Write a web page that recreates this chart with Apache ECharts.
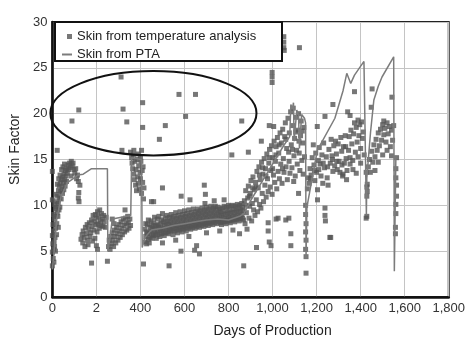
<!DOCTYPE html>
<html>
<head>
<meta charset="utf-8">
<script src="https://cdn.jsdelivr.net/npm/echarts@6/dist/echarts.min.js"></script>
<style>
html, body { margin: 0; padding: 0; background: #fff; }
#chart { width: 468px; height: 343px; }
</style>
</head>
<body>
<div id="chart"></div>
<script>
// ===== 数据 =====
// x 轴刻度文字（原图 200 处只显示 "2"）
var xTickLabels = ['0', '2', '400', '600', '800', '1,000', '1,200', '1,400', '1,600', '1,800'];

// Skin from temperature analysis: [天数, 表皮系数]
var tempSkin = [
  // 0-125 天上升段
  [0,3.4],[0,4.9],[0,6.7],[0,10.6],[0,13.7],[2,5.8],[4,4.2],[5,7.2],[6,5.2],[7,3.8],[8,6.0],[9,8.5],
  [10,5.5],[12,6.5],[14,7.5],[15,9.6],[16,8.8],[18,9.8],[20,10.4],[20,8.0],[22,9.2],[24,11.0],[25,8.8],
  [26,10.2],[28,11.6],[30,9.5],[31,12.1],[33,10.8],[36,12.4],[38,11.5],[41,12.8],[44,12.0],[47,13.1],
  [50,12.5],[53,13.4],[56,12.8],[59,13.8],[62,13.2],[65,14.0],[68,13.5],[71,14.4],[74,13.9],[78,14.6],
  [82,14.1],[86,14.8],[90,14.3],[94,14.6],[98,13.9],[102,13.5],[106,14.0],[110,12.9],[114,13.3],
  [118,12.6],[120,11.4],[118,10.8],[121,10.4],[125,12.2],[22,16.0],
  [3,7.9],[6,9.0],[11,10.1],[17,11.2],[23,12.3],[29,12.9],[35,13.3],[42,13.9],[48,14.2],[55,14.5],
  [14,5.0],[19,6.8],[27,7.6],[34,9.8],[40,10.7],[46,11.3],[52,11.7],[58,12.1],[64,12.6],[85,13.2],
  // 椭圆内及高位散点
  [89,19.2],[120,20.4],[312,24.0],[321,20.5],[338,19.1],[410,21.2],[410,18.5],[513,18.7],[486,17.2],
  [575,22.1],[650,22.1],[605,19.7],[316,16.0],[815,15.5],[860,19.2],[890,15.8],
  // 130-250 天
  [130,6.3],[135,6.8],[138,5.9],[140,7.2],[145,6.5],[148,5.5],[150,7.6],[155,6.9],[158,7.9],[160,6.2],
  [162,5.7],[165,7.4],[168,8.1],[170,6.6],[175,7.0],[178,8.4],[180,7.7],[183,6.1],[185,8.9],[188,7.3],
  [190,8.2],[193,6.4],[195,9.0],[198,7.9],[200,8.6],[203,7.1],[205,9.3],[208,8.0],[210,8.8],[213,7.5],
  [215,9.5],[218,8.3],[220,7.8],[223,9.1],[226,8.5],[230,7.7],[233,8.9],[236,8.2],[240,7.6],[244,8.7],
  [200,5.6],[205,5.2],
  // 低位孤立点
  [178,3.7],[250,3.9],[414,3.6],[530,3.4],[584,5.0],[646,5.1],[668,4.7],[655,5.6],[869,3.4],
  // 255-355 天
  [255,5.5],[258,6.2],[262,5.2],[265,6.6],[268,5.8],[272,7.0],[275,6.2],[278,5.5],[282,7.3],[285,6.6],
  [288,5.9],[292,7.6],[295,6.9],[298,6.2],[302,7.9],[305,7.2],[308,6.5],[312,8.2],[315,7.5],[318,6.8],
  [322,8.5],[325,7.8],[328,7.1],[332,8.6],[335,8.0],[338,7.3],[342,8.8],[345,8.1],[348,7.5],[352,8.5],
  [355,7.8],[272,8.5],[330,9.5],[280,8.0],
  // 355-420 天竖列
  [355,15.8],[360,15.2],[362,14.6],[365,14.0],[368,15.5],[370,13.4],[372,12.8],[375,14.8],[378,12.2],
  [380,13.9],[382,11.6],[385,15.0],[388,13.1],[390,12.4],[392,14.3],[395,11.8],[398,13.6],[400,12.9],
  [402,14.8],[405,11.3],[408,13.8],[410,12.5],[412,14.2],[414,10.7],[416,11.9],[370,16.0],[390,15.6],
  [400,15.3],[405,16.0],
  // 420-870 天主带
  [420,6.0],[420,7.4],[424,6.6],[424,8.0],[428,5.8],[428,7.1],[432,6.9],[432,7.9],[436,6.3],[436,8.4],
  [440,7.0],[440,5.9],[444,6.5],[444,7.6],[448,7.2],[448,8.3],[452,6.4],[452,7.8],[456,7.5],[456,6.8],
  [460,6.7],[460,8.1],[464,7.3],[464,8.7],[468,6.9],[468,7.7],[472,7.8],[472,6.4],[476,7.1],[476,8.5],
  [480,6.8],[480,7.9],[484,7.6],[484,8.8],[488,7.2],[488,6.6],[492,8.0],[492,7.4],[496,6.9],[496,8.4],
  [500,7.5],[500,9.1],[504,7.0],[504,8.2],[508,7.8],[508,6.7],[512,7.3],[512,8.6],[516,8.1],[516,7.0],
  [520,7.6],[520,8.9],[524,7.1],[524,8.3],[528,7.9],[528,6.9],[532,7.4],[532,8.7],[536,8.2],[536,7.2],
  [540,7.7],[540,9.0],[544,7.3],[544,8.5],[548,8.0],[548,6.8],[552,7.5],[552,8.8],[556,8.3],[556,7.2],
  [560,7.8],[560,9.2],[564,7.4],[564,8.6],[568,8.1],[568,7.0],[572,7.6],[572,8.9],[576,8.4],[576,7.3],
  [580,7.9],[580,9.3],[584,7.5],[584,8.7],[588,8.2],[588,7.1],[592,7.7],[592,9.0],[596,8.5],[596,7.4],
  [600,8.0],[600,9.4],[604,7.6],[604,8.8],[608,8.3],[608,7.2],[612,7.8],[612,9.1],[616,8.6],[616,7.5],
  [620,8.1],[620,9.5],[624,7.7],[624,8.9],[628,8.4],[628,7.4],[632,7.9],[632,9.2],[636,8.7],[636,7.6],
  [640,8.2],[640,9.6],[644,7.8],[644,9.0],[648,8.5],[648,7.5],[652,8.0],[652,9.3],[656,8.8],[656,7.7],
  [660,8.3],[660,9.6],[664,7.9],[664,9.1],[668,8.6],[668,7.6],[672,8.1],[672,9.4],[676,8.9],[676,7.8],
  [680,8.4],[680,9.7],[684,8.0],[684,9.2],[688,8.7],[688,7.7],[692,8.2],[692,9.5],[696,9.0],[696,7.9],
  [700,8.5],[700,9.8],[704,8.1],[704,9.3],[708,8.8],[708,7.8],[712,8.3],[712,9.6],[716,9.1],[716,8.0],
  [720,8.6],[720,9.9],[724,8.2],[724,9.4],[728,8.9],[728,7.9],[732,8.4],[732,9.7],[736,9.2],[736,8.1],
  [740,8.7],[740,9.9],[744,8.3],[744,9.5],[748,9.0],[748,8.0],[752,8.5],[752,9.8],[756,9.2],[756,8.2],
  [760,8.7],[760,9.6],[764,8.1],[764,9.3],[768,8.9],[768,7.9],[772,8.4],[772,9.7],[776,9.1],[776,8.2],
  [780,8.6],[780,9.9],[784,8.2],[784,9.4],[788,9.0],[788,8.0],[792,8.5],[792,9.8],[796,9.2],[796,8.3],
  [800,8.7],[800,10.0],[804,8.3],[804,9.5],[808,9.1],[808,8.1],[812,8.6],[812,9.9],[816,9.3],[816,8.4],
  [820,8.8],[820,10.0],[824,8.4],[824,9.6],[828,9.2],[828,8.2],[832,8.7],[832,9.9],[836,9.4],[836,8.5],
  [840,8.9],[840,10.1],[844,8.5],[844,9.7],[848,9.3],[848,8.3],[852,8.8],[852,10.0],[856,9.5],[856,8.6],
  [860,9.0],[860,10.2],[864,8.6],[864,9.8],[868,9.4],[868,8.4],
  [450,10.4],[460,10.4],[500,11.9],[585,11.0],[625,10.6],[690,12.2],[695,11.2],[693,10.2],[735,10.5],
  [780,10.6],[500,5.9],[560,6.2],[620,6.6],[700,7.0],[760,7.2],[820,7.3],[850,6.9],
  // 870-1150 天上升带
  [872,10.5],[875,8.0],[878,11.6],[881,9.2],[884,7.4],[887,10.8],[890,12.1],[893,8.6],[896,9.9],[899,11.3],
  [902,12.7],[905,8.3],[908,10.2],[911,13.1],[914,9.5],[917,11.7],[920,8.9],[923,12.5],[926,10.6],[929,13.7],
  [932,9.3],[935,11.9],[938,14.2],[941,10.1],[944,12.8],[947,9.7],[950,14.7],[953,11.3],[956,13.4],[959,10.4],
  [962,15.1],[965,12.2],[968,14.0],[971,10.9],[974,15.6],[977,12.9],[980,11.5],[983,14.6],[986,16.1],[989,12.0],
  [992,13.8],[995,16.5],[998,11.2],[1001,15.2],[1004,13.3],[1007,17.0],[1010,12.5],[1013,14.8],[1016,16.4],
  [1019,11.8],[1022,17.4],[1025,13.7],[1028,15.7],[1031,12.9],[1034,17.9],[1037,14.5],[1040,16.8],[1043,12.4],
  [1046,18.3],[1049,15.1],[1052,13.6],[1055,17.5],[1058,19.0],[1061,14.2],[1064,16.2],[1067,12.8],[1070,19.5],
  [1073,15.8],[1076,17.9],[1079,13.5],[1082,20.2],[1085,16.6],[1088,14.1],[1091,18.7],[1094,20.6],[1097,15.4],
  [1100,17.3],[1103,13.2],[1106,19.6],[1109,16.0],[1112,14.5],[1115,18.2],[1118,20.0],[1121,15.7],[1124,13.8],
  [1127,17.6],[1130,19.2],[1133,14.9],[1136,16.8],[1139,13.4],[1142,18.5],[1145,15.3],
  [880,10.0],[895,11.0],[910,11.9],[925,12.0],[940,13.3],[955,14.1],[970,13.2],[985,15.2],[1000,14.0],
  [1015,15.5],[1030,16.6],[1045,14.0],[1060,17.2],[1075,14.8],[1090,16.1],[1105,18.0],[1120,17.0],[1135,18.1],
  [1051,27.2],[1051,27.8],[1051,28.4],[1053,26.9],[1122,27.2],[998,23.4],[998,24.0],[998,24.5],
  [949,17.0],[985,18.7],[1005,18.6],[1096,12.6],[1118,11.3],[1025,8.6],[1074,8.6],[980,8.1],[980,7.2],
  [1016,8.5],[1060,8.4],[1083,6.9],[1083,5.6],[927,5.4],[993,5.6],[985,6.0],
  // 1150 天竖列
  [1150,10.0],[1150,9.0],[1152,8.0],[1150,7.1],[1152,6.2],[1150,5.2],[1152,4.4],[1152,2.6],
  // 1150-1340 天
  [1158,11.8],[1162,13.0],[1166,12.4],[1170,14.0],[1175,13.3],[1180,15.2],[1185,16.6],[1188,14.4],[1192,12.7],
  [1196,15.7],[1200,13.6],[1204,11.7],[1204,10.6],[1208,14.9],[1212,16.3],[1216,14.5],[1220,13.2],[1224,15.5],
  [1228,12.4],[1232,16.8],[1236,14.1],[1238,9.7],[1238,8.9],[1240,8.3],[1244,15.3],[1248,13.0],[1252,12.2],
  [1256,16.1],[1260,6.5],[1264,6.5],[1262,14.6],[1266,17.2],[1270,15.4],[1274,13.7],[1278,16.5],[1282,14.3],
  [1286,17.0],[1290,15.6],[1294,13.9],[1298,16.7],[1302,14.8],[1306,13.6],[1310,17.4],[1314,15.9],[1318,13.2],
  [1322,16.4],[1326,14.6],[1330,17.6],[1334,15.1],[1338,13.8],
  [1172,12.9],[1190,13.8],[1210,13.9],[1230,14.6],[1250,14.2],[1272,15.0],[1292,14.8],[1315,14.4],[1332,16.4],
  [1203,18.6],[1238,19.7],[1274,21.0],
  // 1340-1430 天
  [1341,20.2],[1352,19.8],[1372,22.4],[1320,13.4],[1336,12.8],[1352,14.5],
  [1345,16.0],[1348,17.5],[1352,15.2],[1356,18.2],[1360,16.7],[1364,14.9],[1368,17.8],[1372,19.0],[1376,15.8],
  [1380,18.5],[1384,16.9],[1388,19.3],[1392,17.6],[1396,18.8],[1400,16.2],[1404,19.1],[1408,17.3],[1412,18.0],
  [1416,15.5],[1400,14.6],[1388,15.3],[1365,13.9],[1380,13.5],
  [1425,13.6],[1428,12.0],[1428,11.0],[1428,8.8],[1430,12.3],[1430,11.5],[1425,8.6],
  // 1430-1565 天
  [1435,14.2],[1440,15.0],[1444,13.6],[1448,20.7],[1452,22.7],[1450,15.9],[1455,14.7],[1460,16.6],[1465,15.3],
  [1470,17.2],[1475,16.0],[1480,17.9],[1485,16.5],[1490,18.3],[1495,17.1],[1500,18.8],[1505,17.7],[1505,19.2],
  [1510,18.4],[1515,16.9],[1520,19.0],[1525,17.8],[1530,18.6],[1535,16.4],[1540,18.2],[1542,21.8],[1545,17.1],
  [1550,18.7],[1465,13.8],[1480,14.7],[1500,15.5],[1520,16.0],[1540,15.4],
  [1563,15.2],[1563,12.2],[1563,11.0],[1560,10.1],[1560,9.1],[1558,7.6],[1558,6.9],[1560,14.0],[1560,13.0]
];

// Skin from PTA: [天数, 表皮系数]
var ptaSkin = [
  [0,3.0],[8,5.0],[20,8.5],[40,11.0],[70,12.5],[100,13.0],[116,13.3],[140,13.4],[178,14.0],[250,14.0],
  [252,5.0],[262,6.5],[272,8.5],[356,8.9],[360,15.2],[405,15.0],[408,5.4],[420,6.5],[450,7.3],[500,7.5],
  [550,7.8],[600,8.0],[650,8.2],[700,8.4],[750,8.5],[800,8.4],[850,8.8],[870,9.1],[900,10.5],[950,12.5],
  [1000,14.5],[1050,16.5],[1078,17.5],[1083,21.0],[1090,20.5],[1095,21.2],[1098,17.0],[1105,16.8],
  [1110,20.4],[1118,19.8],[1122,16.2],[1128,16.0],[1132,19.9],[1145,19.5],[1150,19.0],[1152,4.2],
  [1156,9.8],[1203,16.0],[1283,19.5],[1320,22.5],[1337,24.4],[1355,23.3],[1372,24.2],[1415,25.7],
  [1424,25.6],[1426,9.0],[1428,13.0],[1445,18.0],[1460,21.5],[1480,23.0],[1497,24.0],[1550,26.2],
  [1553,2.8],[1560,15.4]
];

// 椭圆标注（数据坐标）
var ellipseCenter = [459, 20.05];
var ellipseRadius = [468, 4.6];

// ===== 渲染 =====
var chart = echarts.init(document.getElementById('chart'), null, { renderer: 'canvas' });
var FONT = 'Liberation Sans, Arial, sans-serif';

var option = {
  backgroundColor: '#fff',
  animation: false,
  grid: {
    left: 52, right: 12, top: 22, bottom: 40,
    show: true,
    borderColor: '#222',
    borderWidth: 2
  },
  legend: [
    {
      data: [{ name: 'Skin from temperature analysis', icon: 'rect' }],
      left: 67, top: 30, padding: 0,
      itemWidth: 5, itemHeight: 5,
      textStyle: { fontFamily: FONT, fontSize: 13, color: '#222' }
    },
    {
      data: [{ name: 'Skin from PTA', icon: 'path://M0,0 L10,0 L10,2 L0,2 Z' }],
      left: 62, top: 48, padding: 0,
      itemWidth: 10, itemHeight: 2,
      textStyle: { fontFamily: FONT, fontSize: 13, color: '#222' }
    }
  ],
  xAxis: {
    type: 'value',
    min: 0, max: 1800, interval: 200,
    name: 'Days of Production',
    nameLocation: 'middle',
    nameGap: 27,
    nameTextStyle: { fontFamily: FONT, fontSize: 14, color: '#222', padding: [0, 0, 0, 44] },
    axisLine: { show: true, lineStyle: { color: '#111', width: 2.5 } },
    axisTick: { show: false },
    axisLabel: {
      fontFamily: FONT, fontSize: 13, color: '#333', margin: 5,
      formatter: function(v) { return xTickLabels[Math.round(v / 200)]; }
    },
    splitLine: { show: true, lineStyle: { color: '#c4c4c4', width: 1 } }
  },
  yAxis: {
    type: 'value',
    min: 0, max: 30, interval: 5,
    name: 'Skin Factor',
    nameLocation: 'middle',
    nameGap: 21,
    nameTextStyle: { fontFamily: FONT, fontSize: 14, color: '#222', padding: [0, 0, 0, 20] },
    axisLine: { show: true, lineStyle: { color: '#111', width: 2.5 } },
    axisTick: { show: false },
    axisLabel: { fontFamily: FONT, fontSize: 13, color: '#333', margin: 5 },
    splitLine: { show: true, lineStyle: { color: '#c4c4c4', width: 1 } }
  },
  series: [
    {
      name: 'Skin from temperature analysis',
      type: 'scatter',
      data: tempSkin,
      symbol: 'rect',
      symbolSize: 5,
      itemStyle: { color: '#555' },
      z: 2
    },
    {
      name: 'Skin from PTA',
      type: 'line',
      data: ptaSkin,
      symbol: 'none',
      lineStyle: { color: '#7c7c7c', width: 1.5 },
      itemStyle: { color: '#7c7c7c' },
      z: 3
    }
  ]
};

chart.setOption(option);

// 椭圆与图例外框
var c = chart.convertToPixel({ gridIndex: 0 }, ellipseCenter);
var e = chart.convertToPixel({ gridIndex: 0 }, [ellipseCenter[0] + ellipseRadius[0], ellipseCenter[1] + ellipseRadius[1]]);
chart.setOption({
  graphic: [
    {
      type: 'rect',
      shape: { x: 55, y: 22, width: 227, height: 39 },
      style: { fill: '#fff', stroke: '#111', lineWidth: 2 },
      z: 3
    },
    {
      type: 'ellipse',
      shape: { cx: c[0], cy: c[1], rx: e[0] - c[0], ry: c[1] - e[1] },
      style: { fill: 'none', stroke: '#111', lineWidth: 2 },
      z: 5
    }
  ]
});
</script>
</body>
</html>
